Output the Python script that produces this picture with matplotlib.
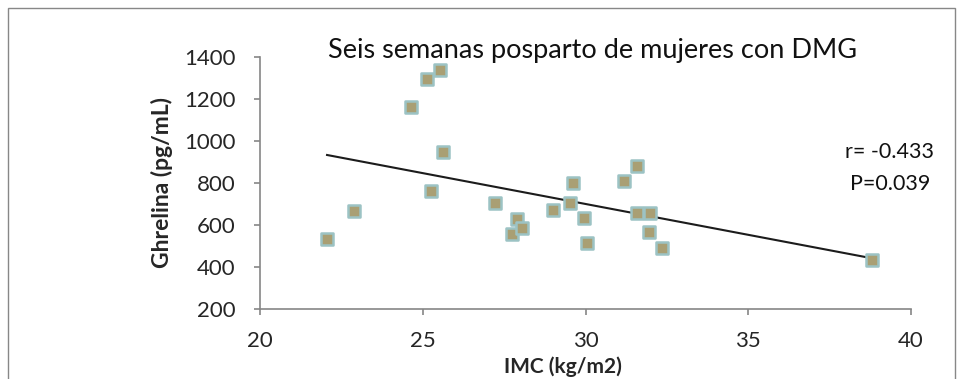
import numpy as np
import matplotlib
matplotlib.use("Agg")
import matplotlib.pyplot as plt
from matplotlib.patches import Rectangle

imc = [22.06, 22.89, 24.63, 25.14, 25.53, 25.63, 25.24, 27.22, 27.74, 27.89, 28.04,
       29.01, 29.52, 29.61, 29.95, 30.04, 31.17, 31.59, 31.58, 31.97, 31.94, 32.36, 38.79]
ghrelina = [535, 667, 1162, 1295, 1339, 950, 763, 707, 559, 629, 585,
            671, 704, 801, 634, 513, 809, 882, 656, 659, 569, 489, 435]

title = "Seis semanas posparto de mujeres con DMG"
xlabel = "IMC (kg/m2)"
ylabel = "Ghrelina (pg/mL)"
stats_lines = ["r= -0.433", "P=0.039"]
xticks = [20, 25, 30, 35, 40]
yticks = [200, 400, 600, 800, 1000, 1200, 1400]

plt.rcParams['font.family'] = ['Lato', 'DejaVu Sans']

W, H = 962, 379
fig = plt.figure(figsize=(W / 100, H / 100), dpi=100)
ax_l, ax_r, ax_b, ax_t = 260, 911, 309, 57.3
ax = fig.add_axes([ax_l / W, 1 - ax_b / H, (ax_r - ax_l) / W, (ax_b - ax_t) / H])
aw, ah = ax_r - ax_l, ax_b - ax_t

# outer chart border
fig.patches.append(Rectangle((8 / W, -0.1), (955 - 8) / W, (H - 8) / H + 0.1,
                             transform=fig.transFigure, fill=False,
                             edgecolor='#878787', linewidth=1.0))

x = np.array(imc)
y = np.array(ghrelina)
slope, intercept = np.polyfit(x, y, 1)
xs = np.array([x.min(), x.max()])
ax.plot(xs, slope * xs + intercept, color='#1c1c1c', linewidth=1.5, zorder=2)

ax.scatter(x, y, marker='s', s=70, facecolor='#a99f74', edgecolor='#9cc3c4',
           linewidth=1.8, zorder=3)

ax.set_xlim(20, 40)
ax.set_ylim(200, 1400)
ax.set_xticks(xticks)
ax.set_yticks(yticks)
for s in ['top', 'right']:
    ax.spines[s].set_visible(False)
for s in ['left', 'bottom']:
    ax.spines[s].set_color('#868686')
    ax.spines[s].set_linewidth(1.2)
ax.tick_params(axis='both', direction='out', length=4.3, width=1.2, color='#868686',
               labelsize=16, labelcolor='#262626')
ax.tick_params(axis='x', pad=11.5)
ax.tick_params(axis='y', pad=13.5)

ax.set_xlabel(xlabel, fontsize=15, fontweight='bold', color='#262626')
ax.xaxis.set_label_coords((562.5 - ax_l) / aw, -(356 - ax_b) / ah)
ax.set_ylabel(ylabel, fontsize=16.5, fontweight='bold', color='#262626')
ax.yaxis.set_label_coords((162 - ax_l) / aw, (ax_b - 182.5) / ah)
ax.yaxis.label.set_va('center')

fig.text(592.5 / W, 1 - 58 / H, title, ha='center', va='baseline', fontsize=19.5, color='#111111')
fig.text(889.5 / W, 1 - 158 / H, stats_lines[0], ha='center', va='baseline', fontsize=15.5, color='#111111')
fig.text(890 / W, 1 - 190 / H, stats_lines[1], ha='center', va='baseline', fontsize=15.5, color='#111111')

fig.savefig("out.png", dpi=100)
